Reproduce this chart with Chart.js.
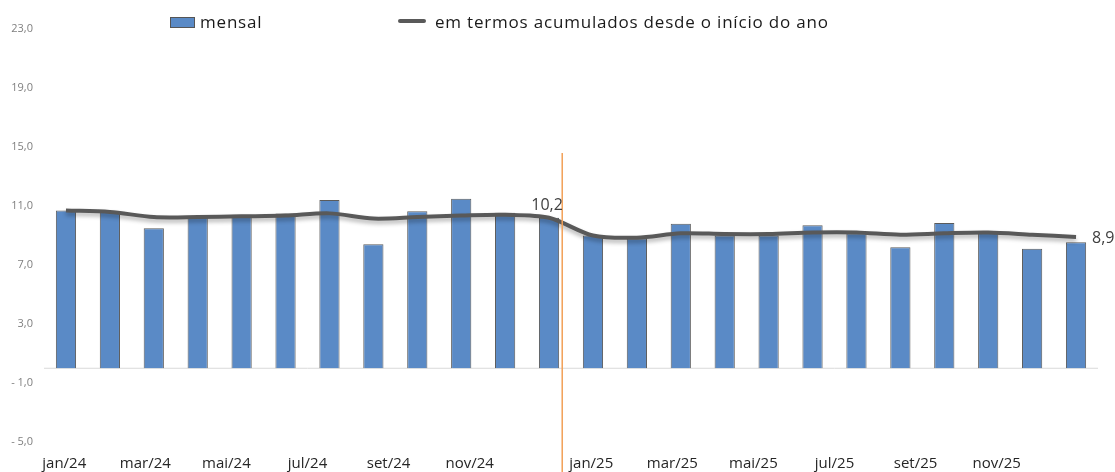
<!DOCTYPE html>
<html>
<head>
<meta charset="utf-8">
<script src="https://cdn.jsdelivr.net/npm/chart.js@4.4.1/dist/chart.umd.min.js"></script>
<style>
  body { margin: 0; background: #fff; }
  #wrap { position: relative; width: 1115px; height: 472px; font-family: "Open Sans", sans-serif; }
  #legend { position: absolute; top: 0; left: 0; width: 100%; height: 40px; pointer-events: none; }
  .item { position: absolute; top: 11px; font-size: 17px; color: #1a1a1a; line-height: 22px; letter-spacing: 0.8px; }
  .box { position: absolute; width: 23px; height: 9px; background: #5A8AC6; border: 1px solid #555; }
  .dash { position: absolute; width: 28px; height: 4px; background: #595959; border-radius: 2px; }
</style>
</head>
<body>
<div id="wrap">
  <canvas id="chart" width="1115" height="472"></canvas>
  <div id="legend"></div>
</div>
<script>
const months = ["jan/24", "fev/24", "mar/24", "abr/24", "mai/24", "jun/24",
  "jul/24", "ago/24", "set/24", "out/24", "nov/24", "dez/24",
  "jan/25", "fev/25", "mar/25", "abr/25", "mai/25", "jun/25",
  "jul/25", "ago/25", "set/25", "out/25", "nov/25", "dez/25"];

const mensal = [10.7, 10.6, 9.5, 10.3, 10.4, 10.5, 11.4, 8.4, 10.65, 11.5, 10.55, 10.2,
  9.0, 8.8, 9.8, 9.0, 9.0, 9.7, 9.15, 8.2, 9.85, 9.3, 8.1, 8.55];

const acumulado = [10.7, 10.6, 10.25, 10.25, 10.3, 10.35, 10.5, 10.15, 10.25, 10.35, 10.4, 10.2,
  9.0, 8.85, 9.15, 9.1, 9.1, 9.2, 9.2, 9.05, 9.15, 9.2, 9.05, 8.9];

// bottom axis labels (Excel spaces them on their own grid)
const axisLabels = ["jan/24", "", "mar/24", "", "mai/24", "", "jul/24", "", "set/24", "", "nov/24", "", "",
  "jan/25", "", "mar/25", "", "mai/25", "", "jul/25", "", "set/25", "", "nov/25", "", ""];

const seriesNames = ["mensal", "em termos acumulados desde o início do ano"];
const labelled = [11, 23];

function fmt(v) {
  const s = Math.abs(v).toFixed(1).replace(".", ",");
  return v < 0 ? "- " + s : s;
}

const extras = {
  id: "extras",
  beforeDatasetsDraw(chart) {
    const { ctx, chartArea, scales } = chart;
    const y0 = scales.y.getPixelForValue(0);
    ctx.save();
    ctx.strokeStyle = "#d9d9d9";
    ctx.lineWidth = 1;
    ctx.beginPath();
    ctx.moveTo(chartArea.left, y0);
    ctx.lineTo(chartArea.right, y0);
    ctx.stroke();
    ctx.restore();
  },
  beforeDatasetDraw(chart, args) {
    if (args.index === 1) {
      const ctx = chart.ctx;
      ctx.save();
      ctx.shadowColor = "rgba(0,0,0,0.3)";
      ctx.shadowBlur = 4;
      ctx.shadowOffsetY = 3;
    }
  },
  afterDatasetDraw(chart, args) {
    if (args.index === 1) chart.ctx.restore();
  },
  afterDatasetsDraw(chart) {
    const { ctx, scales } = chart;
    // separator between years
    const xa = scales.x.getPixelForValue(11), xb = scales.x.getPixelForValue(12);
    const xs = xa + (xb - xa) * 0.3;
    ctx.save();
    ctx.strokeStyle = "#F2A057";
    ctx.lineWidth = 1.5;
    ctx.beginPath();
    ctx.moveTo(xs, scales.y.getPixelForValue(14.6));
    ctx.lineTo(xs, chart.height);
    ctx.stroke();

    const meta = chart.getDatasetMeta(1);
    ctx.fillStyle = "#404040";
    ctx.font = "16px 'Open Sans', sans-serif";
    const p1 = meta.data[labelled[0]];
    ctx.textAlign = "center";
    ctx.textBaseline = "bottom";
    ctx.fillText(fmt(acumulado[labelled[0]]), p1.x - 2, p1.y - 4);
    const p2 = meta.data[labelled[1]];
    ctx.textAlign = "left";
    ctx.textBaseline = "middle";
    ctx.fillText(fmt(acumulado[labelled[1]]), p2.x + 16, p2.y + 1);
    ctx.restore();
  }
};

const chart = new Chart(document.getElementById("chart"), {
  type: "bar",
  data: {
    labels: months,
    datasets: [{
      label: seriesNames[0],
      data: mensal,
      backgroundColor: "#5A8AC6",
      borderColor: "#5b5b5b",
      borderWidth: 1,
      categoryPercentage: 1,
      barPercentage: 0.46,
      order: 1
    }, {
      type: "line",
      label: seriesNames[1],
      data: acumulado,
      borderColor: "#595959",
      borderWidth: 4,
      pointRadius: 0,
      tension: 0.3,
      fill: false,
      order: 0
    }]
  },
  options: {
    responsive: false,
    animation: false,
    devicePixelRatio: 1,
    layout: { padding: { top: 29, right: 17, left: 0, bottom: 0 } },
    plugins: { legend: { display: false }, tooltip: { enabled: false } },
    scales: {
      x: { display: false },
      x2: {
        type: "category",
        labels: axisLabels,
        position: "bottom",
        grid: { display: false, drawTicks: false },
        border: { display: false },
        afterFit(scale) { scale.height = 30; },
        ticks: {
          autoSkip: false, maxRotation: 0, padding: 13,
          color: "#262626",
          font: { family: "'Open Sans', sans-serif", size: 15 }
        }
      },
      y: {
        min: -5, max: 23,
        grid: { display: false, drawTicks: false },
        border: { display: false },
        afterFit(scale) { scale.width = 44; },
        ticks: {
          stepSize: 4, padding: 11,
          color: "#7f7f7f",
          font: { family: "'Open Sans', sans-serif", size: 11 },
          callback: v => fmt(v)
        }
      }
    }
  },
  plugins: [extras]
});

// legend as html
const legend = document.getElementById("legend");
legend.innerHTML =
  '<div class="box" style="left:170px;top:17px"></div>' +
  '<div class="item" style="left:200px">' + seriesNames[0] + '</div>' +
  '<div class="dash" style="left:398px;top:19px"></div>' +
  '<div class="item" style="left:435px">' + seriesNames[1] + '</div>';
</script>
</body>
</html>
